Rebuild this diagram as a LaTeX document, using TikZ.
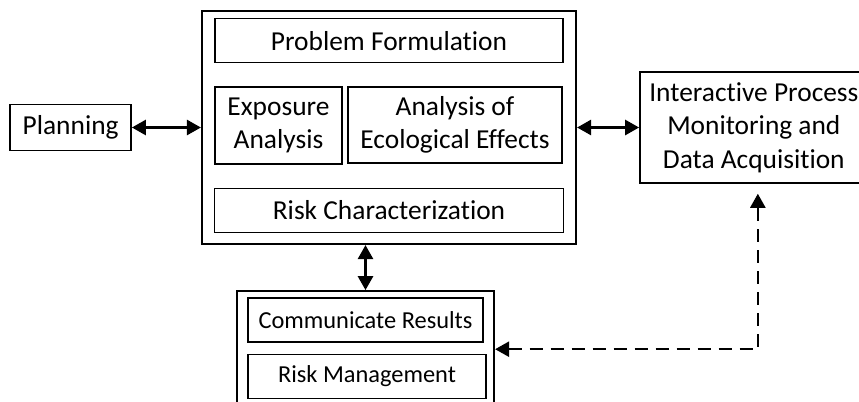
\documentclass[tikz,border=0pt]{standalone}
\usepackage{fontspec}
\setmainfont[Ligatures=NoCommon]{Carlito}
\usepackage{tikz}
\usetikzlibrary{shapes,arrows,arrows.meta,positioning}

\begin{document}
\begin{tikzpicture}[x=0.5pt, y=-0.5pt,
		  every node/.style={draw, line width=0.75pt, inner sep=1pt, align=center, font=\fontsize{13.7}{16.8}\selectfont},
          outer/.style={line width=1.1pt},
          box/.style={minimum height=22pt},
          small/.style={font=\fontsize{12.2}{14.6}\selectfont},
          to/.style={{Triangle[length=7pt,width=7.5pt]}-{Triangle[length=7pt,width=7.5pt]}, line width=1.4pt},
          dashto/.style={to, line width=1.2pt, dash pattern=on 6.5pt off 4pt},
		]
			\useasboundingbox (0,0) rectangle (859,402);
			\draw node[outer, minimum width=187pt, minimum height=116.5pt] at (389,127.5) (main) {};
			\draw node[box, minimum width=174pt, below=4pt of main.north] (problem) {Problem Formulation};
			\draw node[minimum width=63.5pt, minimum height=38.5pt] at (278.5,125.5) (exposure)
                {Exposure\\Analysis};
			\draw node[minimum width=107pt, minimum height=38pt] at (455,125) (ecological)
                {Analysis of\\Ecological Effects};
			\draw node[box, minimum width=174.5pt, above=6pt of main.south] (riskchar) {Risk Characterization};
			\draw node[minimum width=60.5pt, minimum height=23pt, left=34.5pt of main] (planning) {Planning};
			\draw node[minimum width=114pt, minimum height=55.5pt, right=31pt of main] (interactive)
                {Interactive Process\\Monitoring and\\Data Acquisition};
			\draw node[outer, minimum width=128.5pt, minimum height=58pt, below=22.5pt of main, xshift=-11.75pt]
                (bottom) {};
			\draw node[box, small, minimum width=117.5pt, below=3.5pt of bottom.north] (communicate)
                {Communicate Results};
			\draw node[box, small, minimum width=119pt, above=4.5pt of bottom.south, xshift=0.75pt] (riskmgmt)
                {Risk Management};
            \draw[to] (planning) -- (main);
            \draw[to] (main) -- (interactive);
            \draw[to] (bottom.north |- main.south) -- (bottom.north);
            \draw[dashto, shorten >=5pt] (bottom.east) -| ([xshift=2pt]interactive.south);

		 \end{tikzpicture}
\end{document}
